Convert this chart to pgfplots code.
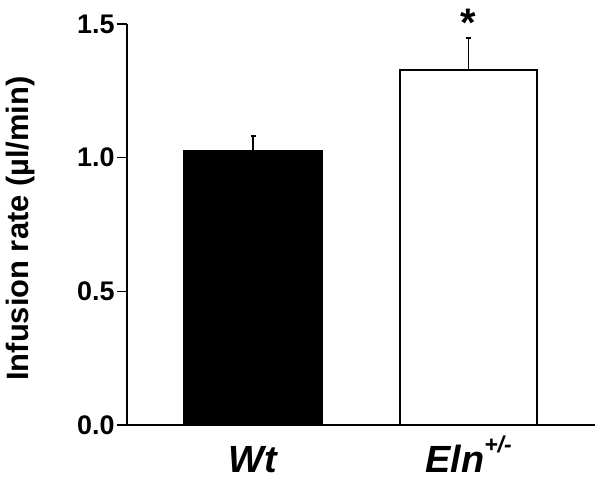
\documentclass[border=0pt]{standalone}
\usepackage{pgfplots}
\pgfplotsset{compat=1.18}
\usepackage{fontspec}
\setmainfont{Liberation Sans}
\begin{document}
\begin{tikzpicture}
\useasboundingbox (-127bp,-55bp) rectangle (474bp,425bp);
\begin{axis}[
  at={(0,0)}, anchor=south west,
  scale only axis, width=468bp, height=401bp,
  xmin=-0.585, xmax=1.587, ymin=0, ymax=1.5,
  clip=false,
  axis x line*=bottom, axis y line*=left,
  axis line style={line width=1.3bp, black, -},
  ytick={0,0.5,1.0,1.5},
  /pgf/number format/fixed, /pgf/number format/fixed zerofill,
  /pgf/number format/precision=1, /pgf/number format/assume math mode=true,
  tick align=outside,
  major tick length=10bp,
  ytick style={line width=1.3bp, black},
  yticklabel style={font=\fontsize{27}{27}\selectfont\bfseries, xshift=1bp},
  xtick={0,1},
  xticklabels={Wt, {Eln\raisebox{20bp}{\fontsize{23}{23}\selectfont +/-}}},
  xtick style={draw=none},
  xticklabel style={font=\fontsize{38}{38}\selectfont\bfseries\itshape, anchor=base, yshift=-37bp},
  ylabel={Infusion rate (µl/min)},
  ylabel style={font=\fontsize{31}{31}\selectfont\bfseries, at={(axis description cs:-0.2265,0.49)}, anchor=center},
]
\addplot[ybar, bar shift=0pt, bar width=138bp, fill=black, draw=black, line width=1.5bp,
  error bars/.cd, y dir=plus, y explicit,
  error bar style={line width=1.3bp, black},
  error mark options={rotate=90, mark size=2.5bp, line width=1.3bp, black}]
  coordinates {(0,1.026) +- (0,0.055)};
\addplot[ybar, bar shift=0pt, bar width=137bp, fill=white, draw=black, line width=1.6bp,
  error bars/.cd, y dir=plus, y explicit,
  error bar style={line width=1.3bp, black},
  error mark options={rotate=90, mark size=2.5bp, line width=1.3bp, black}]
  coordinates {(1,1.328) +- (0,0.12)};
\node[font=\fontsize{40}{40}\selectfont\bfseries, anchor=base] at (axis cs:1,1.455) {*};
\end{axis}
\end{tikzpicture}
\end{document}
